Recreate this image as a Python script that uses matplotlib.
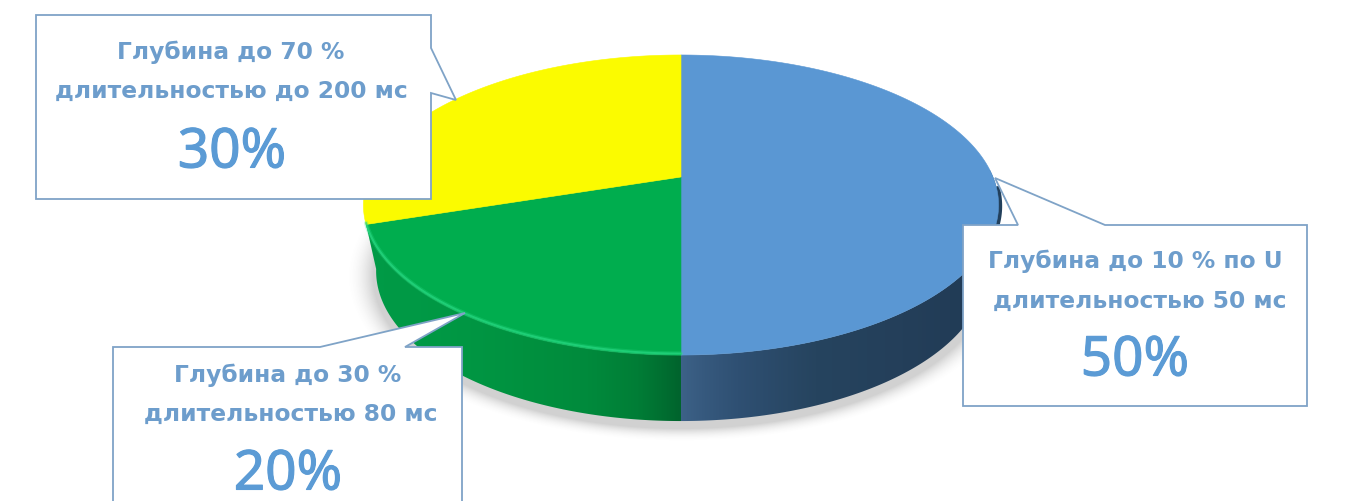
import numpy as np
import matplotlib
matplotlib.use('Agg')
import matplotlib.pyplot as plt
import matplotlib.patheffects as pe
from matplotlib.colors import LinearSegmentedColormap
from matplotlib.patches import Polygon

# Slices run clockwise from 12 o'clock
shares = [50, 20, 30]
top_colors = ['#5a97d3', '#00ad4e', '#fbfb00']
line1 = ['Глубина до 10 % по U', 'Глубина до 30 %', 'Глубина до 70 %']
line2 = ['длительностью 50 мс', 'длительностью 80 мс', 'длительностью до 200 мс']

# x, y of the two caption lines and of the percentage
label_xy = [(1135.5, 260, 1140, 300, 1135, 361), (287.5, 374, 291, 413, 288, 475), (231, 51, 231.5, 90, 232, 153)]
callouts = [
    [(963, 225), (1018, 225), (995, 178), (1105, 225), (1307, 225), (1307, 406), (963, 406)],
    [(113, 347), (320, 347), (465, 313), (405, 347), (462, 347), (462, 520), (113, 520)],
    [(36, 15), (431, 15), (431, 48), (456, 100), (431, 93), (431, 199), (36, 199)],
]

text_color = '#6d9dcc'
big_color = '#5b9bd5'
edge_color = '#7fa3c7'

# Pie geometry in pixels; the disc is seen in perspective so its centre sits above mid-height
cx, cy = 681, 177
rad_x, rad_y, tilt = 312, 144.8, 0.1867
depth = 66


def rim(theta_deg, shift=0.0, scale=1.0):
    t = np.radians(theta_deg)
    w = 1 + tilt * np.sin(t)
    x = cx + scale * rad_x * np.cos(t) / w
    y = cy + shift - rad_y * np.sin(t) / w
    return x, y


fig = plt.figure(figsize=(13.54, 5.02), dpi=100)
ax = fig.add_axes([0, 0, 1, 1])
ax.axis('off')

# soft shadow under the pie
gx, gy = np.meshgrid(np.arange(300, 1060), np.arange(180, 470))
dist = np.sqrt(((gx - 681) / 308.0) ** 2 + ((gy - 276) / 152.0) ** 2)
shadow = np.zeros(dist.shape + (4,))
shadow[..., :3] = 0.4
shadow[..., 3] = 0.3 * np.clip((1.09 - dist) / 0.09, 0, 1) ** 2
ax.imshow(shadow, extent=(300, 1060, 470, 180), aspect='auto', zorder=1)

# slice boundaries in degrees
edges = 90 - np.cumsum([0] + shares) * 3.6

# dark crescent showing past the right edge of the disc
angles = np.linspace(-4, -30, 40)
x, y = rim(angles)
ax.plot(x + 1.5, y + 1, color='#22405c', lw=3, zorder=2)

# side walls, only the front half is visible
wall_cmaps = [
    LinearSegmentedColormap.from_list('blue_wall', ['#3d6288', '#2f5073', '#26445f', '#243f5a', '#203a54']),
    LinearSegmentedColormap.from_list('green_wall', ['#009a46', '#00913f', '#008a3c', '#007d36', '#00642d']),
]
wall_ranges = [(681, 1000), (365, 681)]
wall_power = [0.8, 2]
lower_overrun = [0, 8]
for i in range(2):
    angles = np.linspace(edges[i], edges[i + 1], 200)
    angles = angles[np.sin(np.radians(angles)) <= 0.12]
    ux, uy = rim(angles)
    # the lower rim runs on a little so the outer edge of the wall stays rounded
    low_angles = np.linspace(angles[0], angles[-1] - lower_overrun[i], 200)
    lx, ly = rim(low_angles, depth, 0.96)
    pts = np.column_stack([np.r_[ux, lx[::-1]], np.r_[uy, ly[::-1]]])
    wall = Polygon(pts, closed=True, fc='none', ec='none', zorder=2)
    ax.add_patch(wall)
    grad = np.linspace(0, 1, 256).reshape(1, -1) ** wall_power[i]
    im = ax.imshow(grad, cmap=wall_cmaps[i], extent=(wall_ranges[i][0], wall_ranges[i][1], 440, 170),
                   aspect='auto', zorder=2, vmin=0, vmax=1)
    im.set_clip_path(wall)

# top faces
for i in range(3):
    angles = np.linspace(edges[i], edges[i + 1], 200)
    x, y = rim(angles)
    ax.fill(np.r_[cx, x], np.r_[cy, y], color=top_colors[i], lw=0.4, zorder=3)

# bright bevel along the green rim
angles = np.linspace(edges[1], edges[2], 200)
x, y = rim(angles)
ax.plot(x, y - 1.5, color='#2fe08a', lw=3.2, alpha=0.25, zorder=4, solid_capstyle='round')
ax.plot(x, y - 1.5, color='#25d67f', lw=1.4, alpha=0.75, zorder=4, solid_capstyle='round')

# callouts with value labels
for i in range(3):
    box = Polygon(callouts[i], closed=True, fc='white', ec=edge_color, lw=1.3, zorder=5)
    ax.add_patch(box)
    x1, y1, x2, y2, x3, y3 = label_xy[i]
    ax.text(x1, y1, line1[i], family='DejaVu Sans', weight='bold', fontsize=16.8, color=text_color,
            ha='center', va='center', zorder=6)
    ax.text(x2, y2, line2[i], family='DejaVu Sans', weight='bold', fontsize=16.8, color=text_color,
            ha='center', va='center', zorder=6)
    big = ax.text(x3, y3, f'{shares[i]}%', family='Noto Sans', fontsize=39.5, color=big_color,
                  ha='center', va='center', zorder=6)
    big.set_path_effects([pe.withStroke(linewidth=0.8, foreground=big_color)])

ax.set_xlim(0, 1354)
ax.set_ylim(501, -1)
fig.savefig('out.png', dpi=100, facecolor='white')
